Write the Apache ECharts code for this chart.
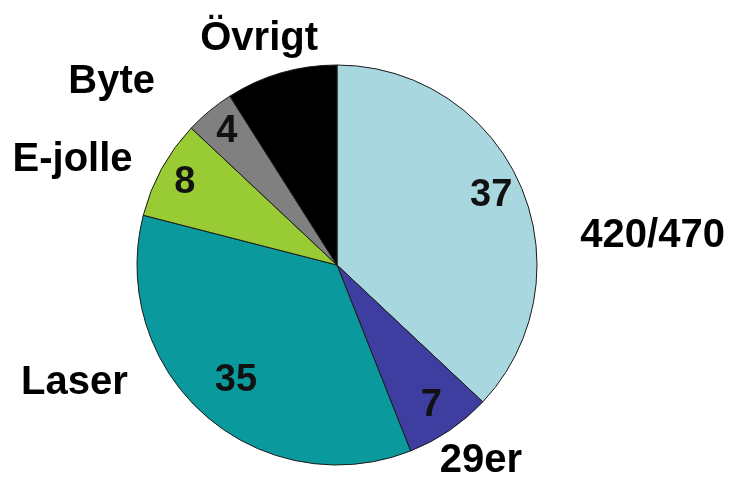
<!DOCTYPE html>
<html>
<head>
<meta charset="utf-8">
<script src="https://cdn.jsdelivr.net/npm/echarts@6/dist/echarts.min.js"></script>
<style>
    html, body { margin: 0; padding: 0; background: #fff; }
    #chart { width: 739px; height: 477px; }
</style>
</head>
<body>
<div id="chart"></div>
<script>
    // data, clockwise from 12 o'clock
    const classes = ['420/470', '29er', 'Laser', 'E-jolle', 'Byte', 'Övrigt'];
    const counts  = [37, 7, 35, 8, 4, 9];
    const colors  = ['#a9d7df', '#3e3ea0', '#0a9a9d', '#99cb35', '#808080', '#000000'];

    // label nudges (px) from the default outside / inside anchor
    const nameNudge  = [[41, 56], [-23, 18], [-62, -43], [-11, -1], [-40, -17], [46, -20]];
    const valueNudge = [[0, -3], [0, 2], [10, -11], [-5, -2], [-3, -4], [0, 0]];

    const CENTER = [337, 265];
    const R      = 200;

    const chart = echarts.init(document.getElementById('chart'), null, { renderer: 'canvas' });

    const option = {
        backgroundColor: '#ffffff',
        animation: false,
        series: [
            {
                name:       'klasser',
                type:       'pie',
                center:     CENTER,
                radius:     [0, R],
                startAngle: 90,
                clockwise:  true,
                avoidLabelOverlap: false,
                silent:     true,
                itemStyle:  { borderColor: '#1a1a1a', borderWidth: 1 },
                label: {
                    show:       true,
                    position:   'outside',
                    formatter:  '{b}',
                    color:      '#000',
                    fontFamily: 'Liberation Sans, Arial, sans-serif',
                    fontWeight: 'bold',
                    fontSize:   40,
                },
                labelLine: { show: false, length: 15, length2: 0 },
                data: classes.map((name, i) => ({
                    name:      name,
                    value:     counts[i],
                    itemStyle: { color: colors[i] },
                    label:     { offset: nameNudge[i] },
                })),
            },
            {
                name:       'antal',
                type:       'pie',
                center:     CENTER,
                radius:     [130, R],
                startAngle: 90,
                clockwise:  true,
                avoidLabelOverlap: false,
                silent:     true,
                itemStyle:  { color: 'transparent', borderWidth: 0 },
                label: {
                    show:       true,
                    position:   'inside',
                    formatter:  '{c}',
                    color:      '#111',
                    fontFamily: 'Liberation Sans Narrow, Liberation Sans, Arial, sans-serif',
                    fontWeight: 'bold',
                    fontSize:   38,
                },
                labelLine: { show: false },
                data: classes.map((name, i) => ({
                    name:  name,
                    value: counts[i],
                    label: { offset: valueNudge[i], show: name !== 'Övrigt' },
                })),
            },
        ],
    };

    chart.setOption(option);
</script>
</body>
</html>
